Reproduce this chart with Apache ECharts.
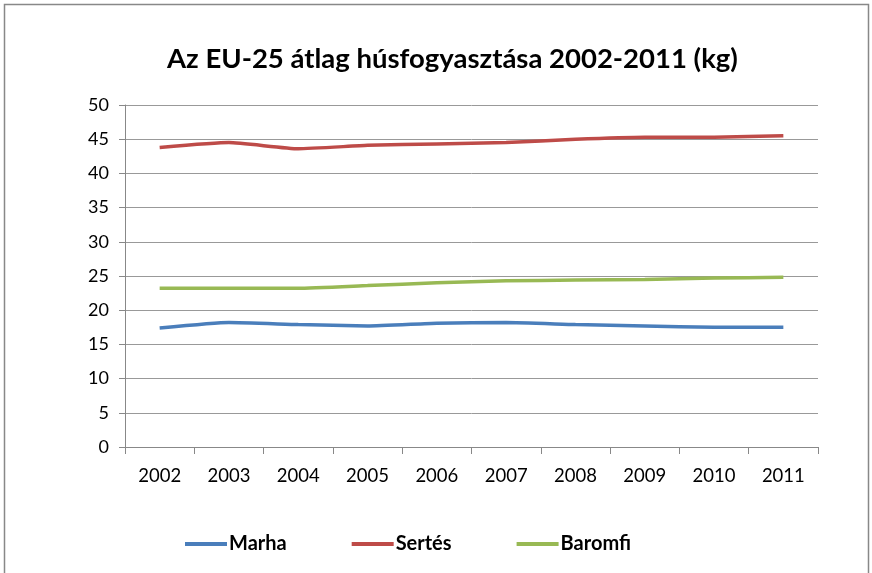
<!DOCTYPE html>
<html>
<head>
<meta charset="utf-8">
<script src="https://cdn.jsdelivr.net/npm/echarts@6/dist/echarts.min.js"></script>
<style>
  html, body { margin: 0; padding: 0; background: #fff; }
  #chart { width: 872px; height: 573px; }
</style>
</head>
<body>
<div id="chart"></div>
<script>
const years = ['2002', '2003', '2004', '2005', '2006', '2007', '2008', '2009', '2010', '2011'];
const marha = [17.4, 18.2, 17.9, 17.7, 18.1, 18.2, 17.9, 17.7, 17.5, 17.5];
const sertes = [43.8, 44.5, 43.6, 44.1, 44.3, 44.5, 45.0, 45.3, 45.3, 45.5];
const baromfi = [23.2, 23.2, 23.2, 23.6, 24.0, 24.3, 24.4, 24.5, 24.7, 24.8];

const font = 'Lato, "Open Sans", sans-serif';
const chart = echarts.init(document.getElementById('chart'));

const makeSeries = (name, data, color) => ({
  name,
  type: 'line',
  data,
  symbol: 'none',
  smooth: 0.15,
  lineStyle: { color, width: 3.5 },
  itemStyle: { color },
});

chart.setOption({
  animation: false,
  graphic: [{
    type: 'rect',
    shape: { x: 4.5, y: 4.5, width: 864, height: 600 },
    style: { fill: 'none', stroke: '#888', lineWidth: 1.5 },
  }],
  title: {
    text: 'Az EU-25 átlag húsfogyasztása 2002-2011 (kg)',
    left: 162,
    top: 40,
    textStyle: { fontFamily: font, fontSize: 27.5, fontWeight: 'bold', color: '#000' },
  },
  legend: {
    top: 529,
    left: 180,
    itemGap: 65,
    itemWidth: 42,
    itemHeight: 4,
    icon: 'rect',
    textStyle: { fontFamily: font, fontSize: 20, fontWeight: 'bold', color: '#000', padding: [0, 0, 0, -3] },
    data: ['Marha', 'Sertés', 'Baromfi'],
  },
  grid: { left: 125, right: 54, top: 105, bottom: 126 },
  xAxis: {
    type: 'category',
    data: years,
    boundaryGap: true,
    axisLine: { lineStyle: { color: '#888', width: 1 } },
    axisTick: { show: true, length: 7, lineStyle: { color: '#888' } },
    axisLabel: { fontFamily: font, fontSize: 18.5, color: '#000', margin: 20 },
  },
  yAxis: {
    type: 'value',
    min: 0,
    max: 50,
    interval: 5,
    axisLine: { show: true, lineStyle: { color: '#888', width: 1 } },
    axisTick: { show: true, length: 6, lineStyle: { color: '#888' } },
    axisLabel: { fontFamily: font, fontSize: 18, color: '#000', margin: 16 },
    splitLine: { lineStyle: { color: '#999', width: 1 } },
  },
  series: [
    makeSeries('Marha', marha, '#4A7EBB'),
    makeSeries('Sertés', sertes, '#BE4B48'),
    makeSeries('Baromfi', baromfi, '#98B954'),
  ],
});
</script>
</body>
</html>
